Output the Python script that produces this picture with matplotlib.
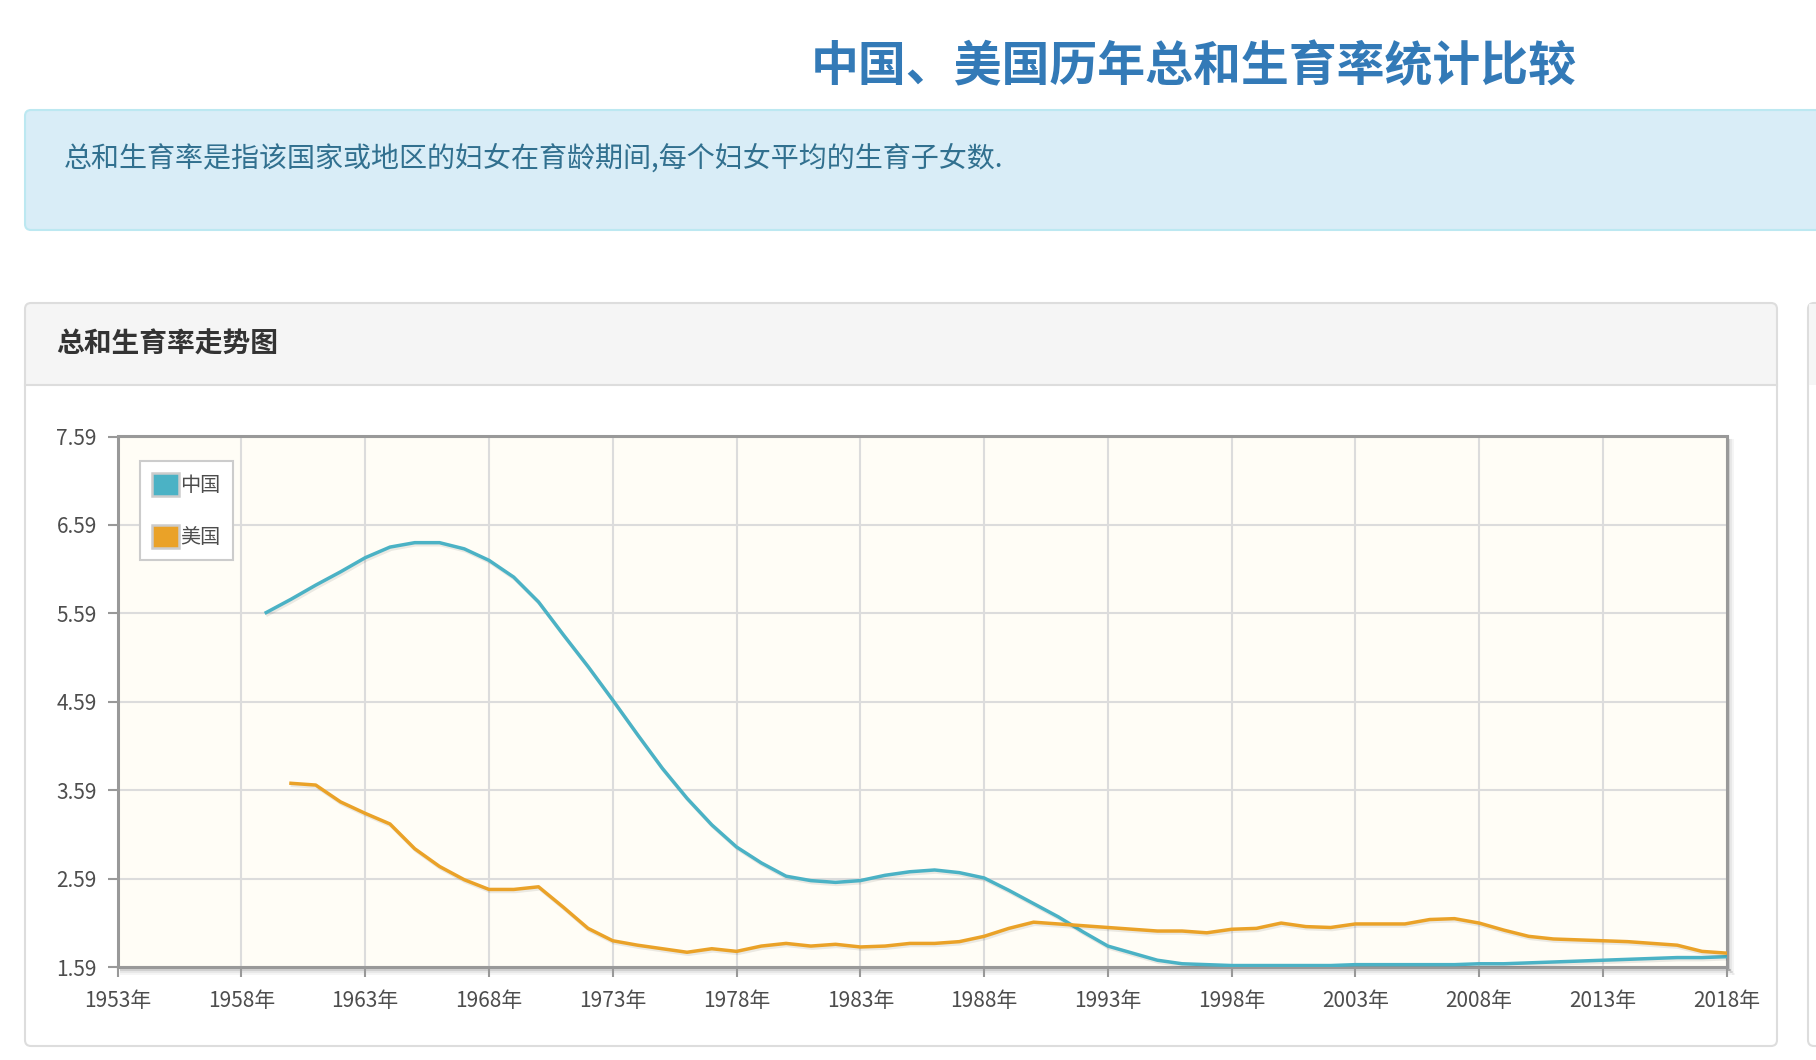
import matplotlib
matplotlib.use('Agg')
import matplotlib.pyplot as plt
import matplotlib.patheffects as pe
from matplotlib.patches import FancyBboxPatch, Rectangle, Patch

plt.rcParams['font.family'] = ['Noto Sans CJK SC', 'DejaVu Sans']

# data
years_cn = list(range(1959, 2019))
china = [5.60, 5.75, 5.91, 6.06, 6.22, 6.34, 6.39, 6.39, 6.32, 6.19,
         6.00, 5.72, 5.35, 4.99, 4.61, 4.22, 3.84, 3.50, 3.20, 2.95,
         2.77, 2.62, 2.57, 2.55, 2.57, 2.63, 2.67, 2.69, 2.66, 2.60,
         2.46, 2.31, 2.16, 1.99, 1.83, 1.75, 1.67, 1.63, 1.62, 1.61,
         1.61, 1.61, 1.61, 1.61, 1.62, 1.62, 1.62, 1.62, 1.62, 1.63,
         1.63, 1.64, 1.65, 1.66, 1.67, 1.68, 1.69, 1.70, 1.70, 1.71]

years_us = list(range(1960, 2019))
usa = [3.67, 3.65, 3.46, 3.33, 3.21, 2.93, 2.73, 2.58, 2.47, 2.47,
       2.50, 2.27, 2.03, 1.89, 1.84, 1.80, 1.76, 1.80, 1.77, 1.83,
       1.86, 1.83, 1.85, 1.82, 1.83, 1.86, 1.86, 1.88, 1.94, 2.03,
       2.10, 2.08, 2.06, 2.04, 2.02, 2.00, 2.00, 1.98, 2.02, 2.03,
       2.09, 2.05, 2.04, 2.08, 2.08, 2.08, 2.13, 2.14, 2.09, 2.01,
       1.94, 1.91, 1.90, 1.89, 1.88, 1.86, 1.84, 1.77, 1.75]

x_ticks = list(range(1953, 2019, 5))
x_labels = [f'{y}年' for y in x_ticks]
y_ticks = [1.59, 2.59, 3.59, 4.59, 5.59, 6.59, 7.59]
y_labels = [f'{v:.2f}' for v in y_ticks]
series_names = ['中国', '美国']
series_colors = ['#4bb2c5', '#eaa228']

W, H = 1816, 1060
fig = plt.figure(figsize=(W / 100, H / 100), dpi=100)
fig.patch.set_facecolor('white')

# page background drawn in pixel coords
bg = fig.add_axes([0, 0, 1, 1], zorder=0)
bg.set_xlim(0, W)
bg.set_ylim(H, 0)
bg.axis('off')

bg.text(1194, 67, '中国、美国历年总和生育率统计比较', ha='center', va='center',
        fontsize=34.5, fontweight='bold', color='#337ab7')

bg.add_patch(FancyBboxPatch((25, 110), 1830, 120, boxstyle='round,pad=0,rounding_size=6',
                            facecolor='#d9edf7', edgecolor='#bce8f1', linewidth=1.5))
bg.text(64, 160, '总和生育率是指该国家或地区的妇女在育龄期间,每个妇女平均的生育子女数.',
        ha='left', va='center', fontsize=20.2, color='#31708f')

# main panel
bg.add_patch(FancyBboxPatch((25, 303), 1752, 743, boxstyle='round,pad=0,rounding_size=6',
                            facecolor='white', edgecolor='none'))
bg.add_patch(FancyBboxPatch((25, 303), 1752, 82, boxstyle='round,pad=0,rounding_size=6',
                            facecolor='#f5f5f5', edgecolor='none'))
bg.add_patch(Rectangle((25, 350), 1752, 35, facecolor='#f5f5f5', edgecolor='none'))
bg.plot([25, 1777], [385, 385], color='#dddddd', lw=1.5)
bg.add_patch(FancyBboxPatch((25, 303), 1752, 743, boxstyle='round,pad=0,rounding_size=6',
                            facecolor='none', edgecolor='#dddddd', linewidth=1.5))
bg.text(56, 345, '总和生育率走势图', ha='left', va='center', fontsize=20,
        fontweight='bold', color='#333333')

# sliver of the next panel on the right
bg.add_patch(FancyBboxPatch((1808, 303), 200, 743, boxstyle='round,pad=0,rounding_size=6',
                            facecolor='white', edgecolor='#dddddd', linewidth=1.5))
bg.add_patch(Rectangle((1809, 304), 200, 81, facecolor='#f5f5f5', edgecolor='none'))

# border shadow of the plot area
for off, a in [(2.5, 0.18), (4.5, 0.09), (6.5, 0.04)]:
    bg.plot([121, 1727 + off], [967.3 + off, 967.3 + off], color='black', alpha=a, lw=1.5)
    bg.plot([1726.7 + off, 1726.7 + off], [440, 967.3 + off], color='black', alpha=a, lw=1.5)

# chart
left, right, top, bottom = 117.7, 1726.7, 436.5, 967.3
ax = fig.add_axes([left / W, 1 - bottom / H, (right - left) / W, (bottom - top) / H], zorder=1)
ax.set_facecolor('#fffdf6')

shadow = [pe.SimpleLineShadow(offset=(1, -1.5), alpha=0.08, shadow_color='black'), pe.Normal()]
ax.plot(years_cn, china, color=series_colors[0], lw=2.5, zorder=3,
        solid_joinstyle='round', path_effects=shadow)
ax.plot(years_us, usa, color=series_colors[1], lw=2.5, zorder=3,
        solid_joinstyle='round', path_effects=shadow)

ax.set_xlim(1953, 2018)
ax.set_ylim(1.59, 7.59)
ax.set_xticks(x_ticks)
ax.set_xticklabels(x_labels)
ax.set_yticks(y_ticks)
ax.set_yticklabels(y_labels)
ax.grid(True, color='#dcdcdc', linewidth=1.5)
ax.set_axisbelow(True)
for s in ax.spines.values():
    s.set_color('#999999')
    s.set_linewidth(2.2)
    s.set_zorder(2.5)
ax.tick_params(axis='both', direction='out', length=7, width=1.5, color='#999999',
               labelsize=15, labelcolor='#4d4d4d')
ax.tick_params(axis='y', pad=8)
ax.tick_params(axis='x', pad=9)

handles = [Patch(facecolor=c, edgecolor='#cccccc', linewidth=1.8, label=n)
           for c, n in zip(series_colors, series_names)]
leg = ax.legend(handles=handles, loc='upper left', bbox_to_anchor=(0.014, 0.954),
                borderaxespad=0, fontsize=14.5, handlelength=1.35, handleheight=1.35,
                handletextpad=0.05, labelspacing=1.45, borderpad=0.6,
                fancybox=False, framealpha=1, facecolor='white', edgecolor='#cccccc')
leg.get_frame().set_linewidth(1.5)
for t in leg.get_texts():
    t.set_color('#4d4d4d')

fig.savefig('out.png', dpi=100)
